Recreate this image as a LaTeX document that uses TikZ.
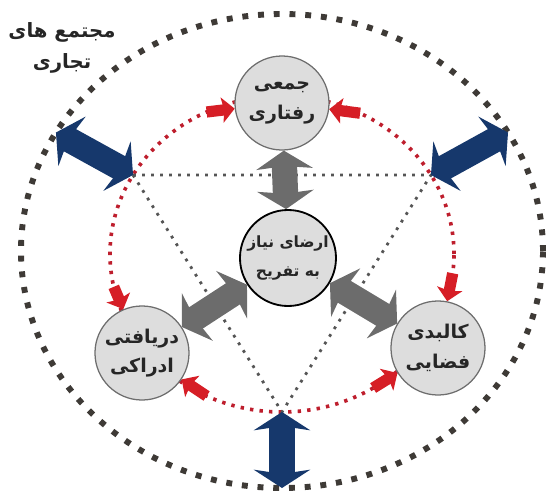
\documentclass[tikz,border=0pt]{standalone}
\usepackage{fontspec}
\newfontfamily\arabicfont[Script=Arabic]{DejaVu Sans}
\TeXXeTstate=1
\usetikzlibrary{arrows.meta}

\definecolor{ringgrey}{RGB}{62,58,54}
\definecolor{ringred}{RGB}{190,30,45}
\definecolor{trigrey}{RGB}{85,85,85}
\definecolor{nodefill}{RGB}{221,221,221}
\definecolor{nodeedge}{RGB}{110,110,110}
\definecolor{arrowgrey}{RGB}{108,108,108}
\definecolor{navy}{RGB}{22,56,108}
\definecolor{arrowred}{RGB}{214,30,38}

\tikzset{
  ring/.style={draw=ringgrey, line width=4.2pt, dash pattern=on 4.2pt off 7pt},
  redring/.style={draw=ringred, line width=2.6pt, dash pattern=on 2.4pt off 4.4pt},
  tri/.style={draw=trigrey, line width=2pt, dash pattern=on 2pt off 4.4pt},
  topic/.style={circle, draw=nodeedge, line width=0.9pt, fill=nodefill,
    minimum size=2.35cm, inner sep=0pt, align=center, text=black!85,
    font=\arabicfont\bfseries\fontsize{13.5}{21}\selectfont},
  core/.style={topic, draw=black, line width=1.3pt, minimum size=2.4cm,
    inner sep=-2pt, font=\arabicfont\bfseries\fontsize{11}{20}\selectfont},
  greyarrow/.style={draw=arrowgrey, line width=18pt,
    {Stealth[inset=2pt,length=13pt,width=40pt]}-{Stealth[inset=2pt,length=13pt,width=40pt]}},
  navyarrow/.style={draw=navy, line width=18pt,
    {Stealth[inset=3pt,length=13pt,width=40pt]}-{Stealth[inset=3pt,length=13pt,width=40pt]}},
  redarrow/.style={draw=arrowred, line width=8pt,
    -{Stealth[inset=1.5pt,length=9pt,width=18pt]}}
}

\begin{document}
\begin{tikzpicture}[x=0.025cm, y=0.025cm]
  \useasboundingbox (-282,-244) rectangle (267,252);

  % rings and triangle
  \draw[ring] (0,1) ellipse [x radius=261, y radius=237];
  \draw[redring] (0,-2) ellipse [x radius=172, y radius=158];
  \foreach \a in {150,30,270}
  {
    \coordinate (in\a) at ([shift={(0,-2)}]\a:172 and 158);
    \coordinate (out\a) at ([shift={(0,1)}]\a:261 and 237);
  }
  \draw[tri] (in150) -- (in30) -- (in270) -- cycle;

  % nodes
  \node[topic] (group) at (0,149) {\beginR جمعی\endR\\\beginR رفتاری\endR};
  \node[core] (need) at (6,-6) {\beginR ارضای نیاز\endR\\\beginR به تفریح\endR};
  \node[topic] (sense) at (-140,-101) {\beginR دریافتی\endR\\\beginR ادراکی\endR};
  \node[topic] (space) at (156,-96) {\beginR کالبدی\endR\\\beginR فضایی\endR};
  \node[font=\arabicfont\bfseries\fontsize{14}{22}\selectfont, align=center, text=black!85]
    (mall) at (-220,204) {\beginR مجتمع های\endR\\\beginR تجاری\endR};

  % arrows
  \foreach \a in {150,30,270}
    \draw[navyarrow] (in\a) -- (out\a);
  \draw[greyarrow] (need) -- (group);
  \draw[greyarrow] (need) -- (sense);
  \draw[greyarrow] (need) -- (space);
  \foreach \a/\n in {116/group, 63/group, -7/space, -58/space, 244/sense, 192/sense}
  {
    \coordinate (r\a) at ([shift={(0,-2)}]\a:172 and 158);
    \draw[redarrow] (r\a) -- (\n);
  }
\end{tikzpicture}
\end{document}
